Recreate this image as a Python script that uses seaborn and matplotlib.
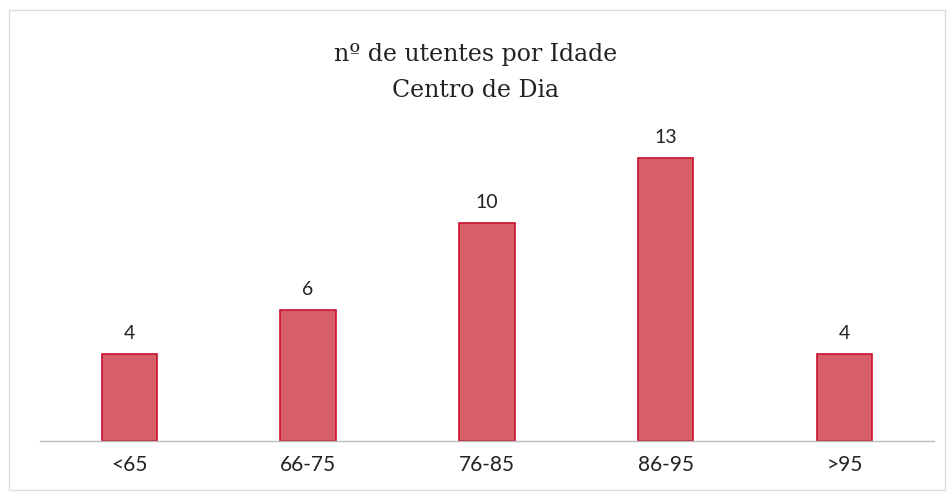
import pandas as pd
import matplotlib
matplotlib.use('Agg')
from matplotlib import pyplot as plt
import seaborn as sns

idades = ['<65', '66-75', '76-85', '86-95', '>95']
utentes = [4, 6, 10, 13, 4]

df = pd.DataFrame({'idade': idades, 'utentes': utentes})

sns.set_style('white')
plt.rcParams['font.family'] = ['Lato', 'DejaVu Sans']

fig = plt.figure(figsize=(9.51, 4.97), dpi=100)
ax = fig.add_axes([0.042, 0.1127, 0.940, 0.635])
sns.barplot(data=df, x='idade', y='utentes', color='#d65f6a', width=0.31,
            edgecolor='#c8102e', linewidth=1.2, saturation=1, ax=ax)

for i, v in enumerate(utentes):
    ax.text(i, v + 0.55, str(v), ha='center', va='bottom', fontsize=14, color='#222222')

ax.set_ylim(0, 14.5)
ax.set_xlim(-0.5, 4.5)
ax.set_xlabel('')
ax.set_ylabel('')
ax.set_yticks([])
ax.tick_params(axis='x', length=0, labelsize=15, colors='#222222', pad=10)
for s in ['top', 'left', 'right']:
    ax.spines[s].set_visible(False)
ax.spines['bottom'].set_color('#bbbbbb')
ax.spines['bottom'].set_linewidth(1)

fig.text(0.5, 0.89, 'nº de utentes por Idade', ha='center', va='center',
         fontsize=17, family=['DejaVu Serif'], color='#222222')
fig.text(0.5, 0.818, 'Centro de Dia', ha='center', va='center',
         fontsize=17, family=['DejaVu Serif'], color='#222222')

border = plt.Rectangle((0.009, 0.014), 0.985, 0.966, transform=fig.transFigure,
                       fill=False, edgecolor='#dddddd', linewidth=1)
fig.patches.append(border)

fig.savefig('out.png', dpi=100)
